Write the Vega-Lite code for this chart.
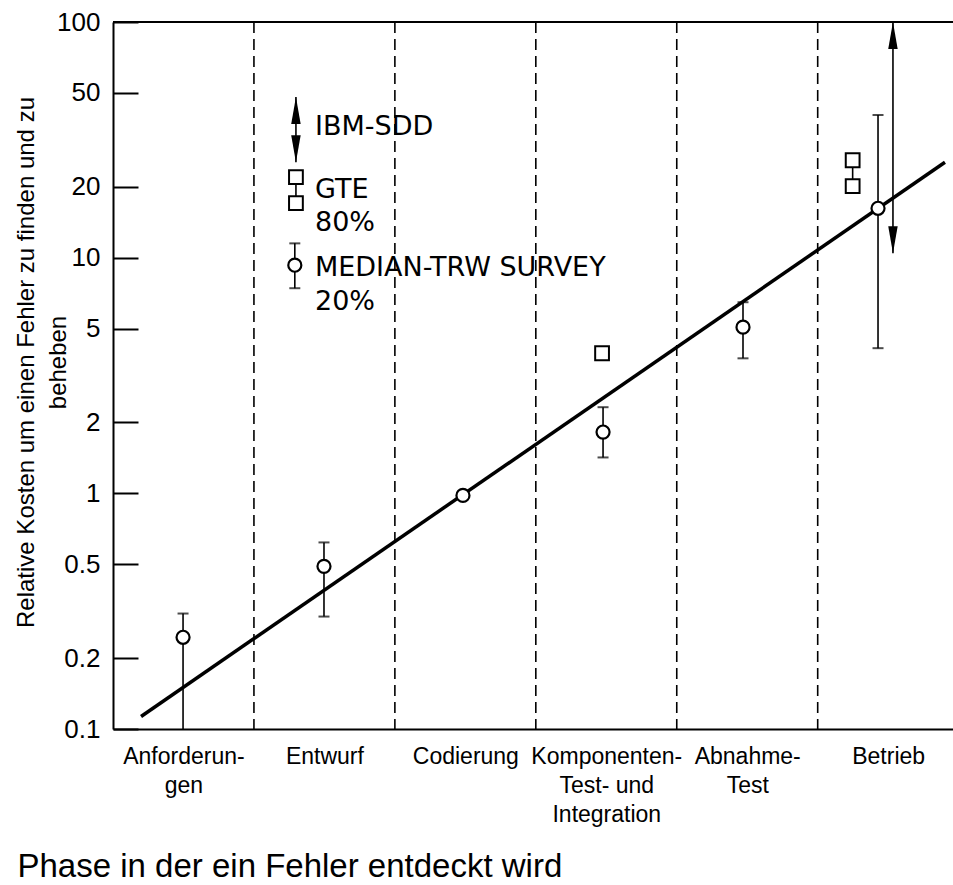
{
  "$schema": "https://vega.github.io/schema/vega-lite/v6.json",
  "width": 840,
  "height": 707,
  "autosize": {"type": "none"},
  "padding": {"left": 113, "top": 22, "right": 0, "bottom": 156},
  "background": "white",
  "config": {
    "view": {"stroke": null},
    "axis": {"grid": false, "domainColor": "black", "domainWidth": 2, "labelColor": "black", "titleColor": "black", "tickColor": "black"}
  },
  "datasets": {
    "frame": [{"cost": 100}],
    "boundaries": [{"phase_x": 1}, {"phase_x": 2}, {"phase_x": 3}, {"phase_x": 4}, {"phase_x": 5}],
    "trend": [{"phase_x": 0.199, "cost": 0.113}, {"phase_x": 5.903, "cost": 25.4}],
    "trw": [
      {"phase": "Anforderungen", "phase_x": 0.497, "cost": 0.245, "lo": 0.1, "hi": 0.309, "lo_beyond_axis": true},
      {"phase": "Entwurf", "phase_x": 1.497, "cost": 0.49, "lo": 0.3, "hi": 0.619, "lo_beyond_axis": false},
      {"phase": "Codierung", "phase_x": 2.483, "cost": 0.98, "lo": null, "hi": null, "lo_beyond_axis": false},
      {"phase": "Komponenten", "phase_x": 3.477, "cost": 1.82, "lo": 1.42, "hi": 2.32, "lo_beyond_axis": false},
      {"phase": "Abnahme", "phase_x": 4.47, "cost": 5.07, "lo": 3.74, "hi": 6.47, "lo_beyond_axis": false},
      {"phase": "Betrieb", "phase_x": 5.428, "cost": 16.2, "lo": 4.13, "hi": 40.3, "lo_beyond_axis": false},
      {"phase": "Legende", "phase_x": 1.29, "cost": 9.29, "lo": 7.42, "hi": 11.5, "lo_beyond_axis": false}
    ],
    "gte": [
      {"phase": "Komponenten", "phase_x": 3.47, "cost": 3.93},
      {"phase": "Betrieb", "phase_x": 5.248, "cost": 25.9},
      {"phase": "Betrieb", "phase_x": 5.248, "cost": 20.1},
      {"phase": "Legende", "phase_x": 1.298, "cost": 21.97},
      {"phase": "Legende", "phase_x": 1.298, "cost": 17.03}
    ],
    "ibm": [
      {"phase": "Betrieb", "phase_x": 5.534, "lo": 10.45, "hi": 100},
      {"phase": "Legende", "phase_x": 1.298, "lo": 25.4, "hi": 48.0}
    ],
    "key_text": [
      {"label": "IBM-SDD", "phase_x": 1.433, "cost": 35.8},
      {"label": "GTE", "phase_x": 1.433, "cost": 19.35},
      {"label": "80%", "phase_x": 1.433, "cost": 14.0},
      {"label": "MEDIAN-TRW SURVEY", "phase_x": 1.433, "cost": 9.03},
      {"label": "20%", "phase_x": 1.433, "cost": 6.47}
    ]
  },
  "layer": [
    {
      "data": {"name": "boundaries"},
      "mark": {"type": "rule", "color": "black", "strokeWidth": 1.6, "strokeDash": [11, 6]},
      "encoding": {
        "x": {
          "field": "phase_x", "type": "quantitative",
          "scale": {"domain": [0, 5.96], "nice": false, "zero": false},
          "axis": {
            "values": [0.5, 1.5, 2.5, 3.5, 4.5, 5.5],
            "ticks": false,
            "labelExpr": "[['Anforderun-','gen'],'Entwurf','Codierung',['Komponenten-','Test- und','Integration'],['Abnahme-','Test'],'Betrieb'][floor(datum.value)]",
            "labelFont": "Liberation Sans",
            "labelFontSize": 23,
            "labelBaseline": "top",
            "labelPadding": 16,
            "labelLineHeight": 29,
            "labelFlush": false,
            "labelOverlap": false,
            "title": "Phase in der ein Fehler entdeckt wird",
            "titleFont": "Liberation Sans",
            "titleFontSize": 33,
            "titleFontWeight": "normal",
            "titleAlign": "left",
            "titleAnchor": "start",
            "titleBaseline": "top",
            "titleX": -96,
            "titleY": 121
          }
        }
      }
    },
    {
      "data": {"name": "frame"},
      "mark": {"type": "rule", "color": "black", "strokeWidth": 2},
      "encoding": {
        "y": {
          "field": "cost", "type": "quantitative",
          "scale": {"type": "log", "domain": [0.1, 100], "nice": false},
          "axis": {
            "values": [0.1, 0.2, 0.5, 1, 2, 5, 10, 20, 50, 100],
            "format": "~g",
            "labelFont": "Liberation Sans",
            "labelFontSize": 26,
            "labelPadding": 38,
            "labelOverlap": false,
            "labelFlush": false,
            "tickSize": -25,
            "tickWidth": 2,
            "title": ["Relative Kosten um einen Fehler zu finden und zu", "beheben"],
            "titleFont": "Liberation Sans",
            "titleFontSize": 24,
            "titleFontWeight": "normal",
            "titleAngle": 270,
            "titleAlign": "center",
            "titleBaseline": "top",
            "titleLineHeight": 32,
            "titleX": -99,
            "titleY": 340
          }
        }
      }
    },
    {
      "data": {"name": "trw"},
      "transform": [{"filter": "isValid(datum.lo)"}],
      "mark": {"type": "rule", "color": "black", "strokeWidth": 1.6},
      "encoding": {
        "x": {"field": "phase_x", "type": "quantitative"},
        "y": {"field": "lo", "type": "quantitative"},
        "y2": {"field": "hi"}
      }
    },
    {
      "data": {"name": "trw"},
      "transform": [{"filter": "isValid(datum.hi)"}],
      "mark": {"type": "tick", "orient": "horizontal", "size": 11, "thickness": 2, "color": "black"},
      "encoding": {
        "x": {"field": "phase_x", "type": "quantitative"},
        "y": {"field": "hi", "type": "quantitative"}
      }
    },
    {
      "data": {"name": "trw"},
      "transform": [{"filter": "isValid(datum.lo) && !datum.lo_beyond_axis"}],
      "mark": {"type": "tick", "orient": "horizontal", "size": 11, "thickness": 2, "color": "black"},
      "encoding": {
        "x": {"field": "phase_x", "type": "quantitative"},
        "y": {"field": "lo", "type": "quantitative"}
      }
    },
    {
      "data": {"name": "ibm"},
      "mark": {"type": "rule", "color": "black", "strokeWidth": 1.6},
      "encoding": {
        "x": {"field": "phase_x", "type": "quantitative"},
        "y": {"field": "lo", "type": "quantitative"},
        "y2": {"field": "hi"}
      }
    },
    {
      "data": {"name": "ibm"},
      "mark": {"type": "point", "shape": "M0,-1L0.35,1L-0.35,1Z", "size": 729, "filled": true, "color": "black", "opacity": 1, "yOffset": 13.5},
      "encoding": {
        "x": {"field": "phase_x", "type": "quantitative"},
        "y": {"field": "hi", "type": "quantitative"}
      }
    },
    {
      "data": {"name": "ibm"},
      "mark": {"type": "point", "shape": "M0,1L0.35,-1L-0.35,-1Z", "size": 729, "filled": true, "color": "black", "opacity": 1, "yOffset": -13.5},
      "encoding": {
        "x": {"field": "phase_x", "type": "quantitative"},
        "y": {"field": "lo", "type": "quantitative"}
      }
    },
    {
      "data": {"name": "trend"},
      "mark": {"type": "line", "color": "black", "strokeWidth": 3.5},
      "encoding": {
        "x": {"field": "phase_x", "type": "quantitative"},
        "y": {"field": "cost", "type": "quantitative"}
      }
    },
    {
      "data": {"name": "gte"},
      "mark": {"type": "line", "color": "black", "strokeWidth": 1.6},
      "encoding": {
        "x": {"field": "phase_x", "type": "quantitative"},
        "y": {"field": "cost", "type": "quantitative"},
        "detail": {"field": "phase", "type": "nominal"}
      }
    },
    {
      "data": {"name": "gte"},
      "mark": {"type": "point", "shape": "square", "size": 190, "filled": true, "fill": "white", "stroke": "black", "strokeWidth": 2, "opacity": 1},
      "encoding": {
        "x": {"field": "phase_x", "type": "quantitative"},
        "y": {"field": "cost", "type": "quantitative"}
      }
    },
    {
      "data": {"name": "trw"},
      "mark": {"type": "point", "shape": "circle", "size": 170, "filled": true, "fill": "white", "stroke": "black", "strokeWidth": 2.2, "opacity": 1},
      "encoding": {
        "x": {"field": "phase_x", "type": "quantitative"},
        "y": {"field": "cost", "type": "quantitative"}
      }
    },
    {
      "data": {"name": "key_text"},
      "mark": {"type": "text", "align": "left", "baseline": "middle", "font": "DejaVu Sans", "fontSize": 27, "color": "black"},
      "encoding": {
        "x": {"field": "phase_x", "type": "quantitative"},
        "y": {"field": "cost", "type": "quantitative"},
        "text": {"field": "label"}
      }
    }
  ]
}
